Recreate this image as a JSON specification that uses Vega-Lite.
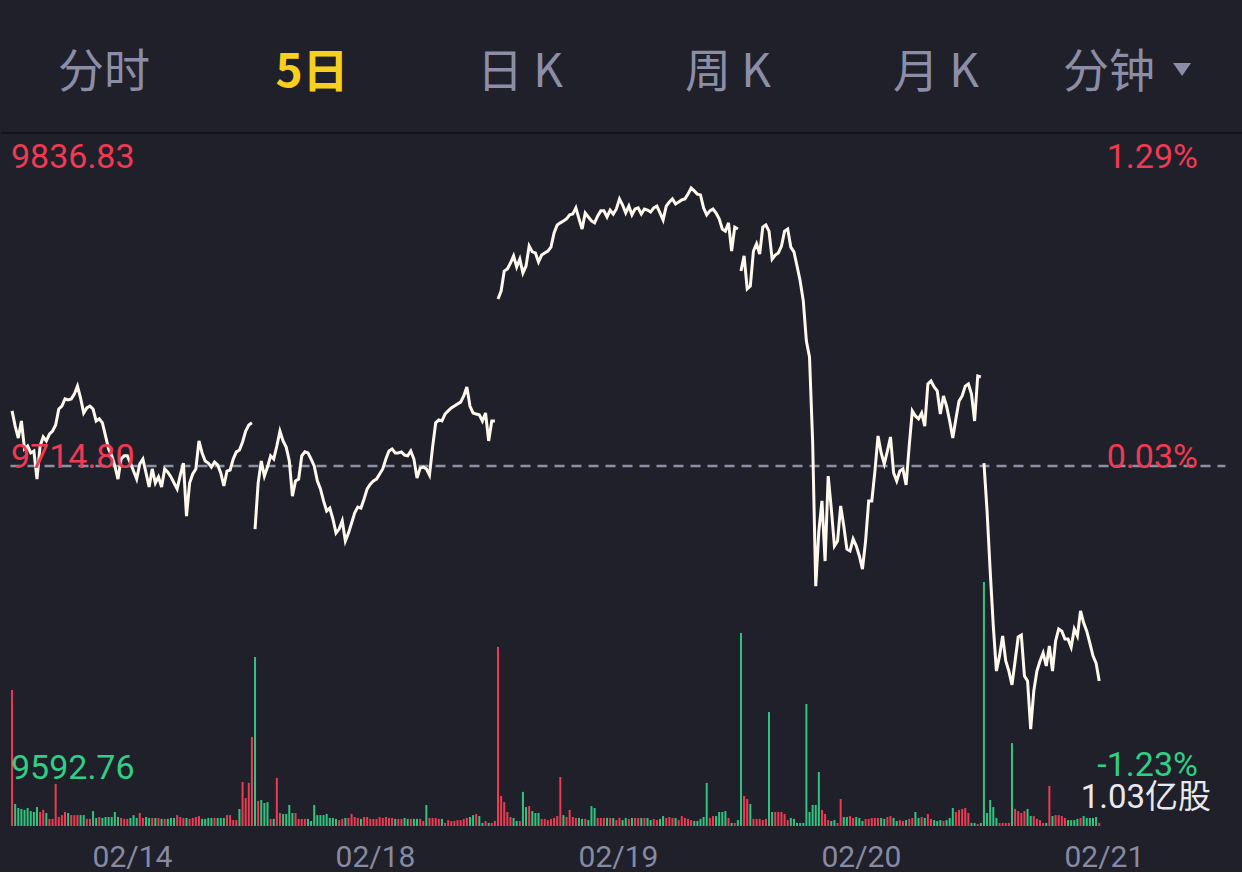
{
"$schema": "https://vega.github.io/schema/vega-lite/v6.json",
"background": "#1f2029",
"padding": 0,
"spacing": 0,
"config": {"view": {"stroke": null}, "font": "Roboto", "scale": {"continuousPadding": 0}},
"vconcat": [
{
"width": 1242, "height": 133,
"data": {"values": [{"n":0,"tab":"分时"},{"n":1,"tab":"5日"},{"n":2,"tab":"日 K"},{"n":3,"tab":"周 K"},{"n":4,"tab":"月 K"},{"n":5,"tab":"分钟"}]},
"layer": [
{"mark": {"type":"rule","color":"#15161c","strokeWidth":1.5}, "encoding": {"y": {"value": "height"}}},
{"transform":[{"filter":"datum.n != 1 && datum.n != 5"}],
 "mark": {"type":"text","font":"Noto Sans CJK SC","fontSize":46,"color":"#8b8ea6","dy":6},
 "encoding": {"x": {"field":"n","type":"quantitative","scale":{"domain":[-0.495,5.476],"nice":false,"zero":false},"axis":null},"text":{"field":"tab"}}},
{"transform":[{"filter":"datum.n == 1"}],
 "mark": {"type":"text","font":"Noto Sans CJK SC","fontSize":46,"fontWeight":"bold","color":"#f7cf1e","dy":6},
 "encoding": {"x": {"field":"n","type":"quantitative","scale":{"domain":[-0.495,5.476],"nice":false,"zero":false},"axis":null},"text":{"field":"tab"}}},
{"transform":[{"filter":"datum.n == 5"}],
 "mark": {"type":"text","font":"Noto Sans CJK SC","fontSize":46,"color":"#8b8ea6","dy":6,"dx":-35},
 "encoding": {"x": {"field":"n","type":"quantitative","scale":{"domain":[-0.495,5.476],"nice":false,"zero":false},"axis":null},"text":{"field":"tab"}}},
{"transform":[{"filter":"datum.n == 5"}],
 "mark": {"type":"point","filled":true,"color":"#8b8ea6","opacity":1,"size":324,"shape":"M-1,-0.39L1,-0.39L0,1.05Z"},
 "encoding": {"x": {"datum":5.183,"type":"quantitative","scale":{"domain":[-0.495,5.476],"nice":false,"zero":false},"axis":null}}}
]
},
{
"width": 1242, "height": 692,
"data": {"values": [
{"k":0,"day":1,"p":9735.5,"v":57.4,"c":"u"},{"k":1,"day":1,"p":9729.8,"v":9.3,"c":"d"},{"k":2,"day":1,"p":9725.3,"v":7.6,"c":"d"},{"k":3,"day":1,"p":9731.7,"v":7.2,"c":"d"},{"k":4,"day":1,"p":9721.2,"v":6.8,"c":"d"},{"k":5,"day":1,"p":9722.3,"v":7.6,"c":"d"},{"k":6,"day":1,"p":9719.7,"v":6.3,"c":"d"},{"k":7,"day":1,"p":9720.4,"v":5.9,"c":"d"},{"k":8,"day":1,"p":9709.9,"v":8.0,"c":"d"},{"k":9,"day":1,"p":9722.3,"v":5.9,"c":"u"},
{"k":10,"day":1,"p":9725.7,"v":6.8,"c":"u"},{"k":11,"day":1,"p":9724.2,"v":5.5,"c":"d"},{"k":12,"day":1,"p":9726.8,"v":3.0,"c":"u"},{"k":13,"day":1,"p":9727.9,"v":3.0,"c":"u"},{"k":14,"day":1,"p":9730.2,"v":17.7,"c":"u"},{"k":15,"day":1,"p":9736.2,"v":3.8,"c":"u"},{"k":16,"day":1,"p":9737.3,"v":4.6,"c":"u"},{"k":17,"day":1,"p":9740.0,"v":5.9,"c":"u"},{"k":18,"day":1,"p":9739.6,"v":5.5,"c":"d"},{"k":19,"day":1,"p":9740.0,"v":4.6,"c":"u"},
{"k":20,"day":1,"p":9741.8,"v":4.6,"c":"u"},{"k":21,"day":1,"p":9744.8,"v":4.6,"c":"u"},{"k":22,"day":1,"p":9740.3,"v":4.6,"c":"d"},{"k":23,"day":1,"p":9734.7,"v":4.6,"c":"d"},{"k":24,"day":1,"p":9736.6,"v":3.0,"c":"u"},{"k":25,"day":1,"p":9737.3,"v":3.0,"c":"u"},{"k":26,"day":1,"p":9736.2,"v":6.3,"c":"d"},{"k":27,"day":1,"p":9731.7,"v":3.4,"c":"d"},{"k":28,"day":1,"p":9732.5,"v":3.8,"c":"u"},{"k":29,"day":1,"p":9731.0,"v":3.4,"c":"d"},
{"k":30,"day":1,"p":9726.1,"v":3.8,"c":"d"},{"k":31,"day":1,"p":9721.2,"v":3.8,"c":"d"},{"k":32,"day":1,"p":9718.6,"v":3.8,"c":"d"},{"k":33,"day":1,"p":9714.8,"v":5.9,"c":"d"},{"k":34,"day":1,"p":9709.9,"v":3.8,"c":"d"},{"k":35,"day":1,"p":9717.4,"v":3.4,"c":"u"},{"k":36,"day":1,"p":9718.6,"v":3.0,"c":"u"},{"k":37,"day":1,"p":9718.6,"v":3.0,"c":"u"},{"k":38,"day":1,"p":9715.9,"v":3.4,"c":"d"},{"k":39,"day":1,"p":9712.9,"v":4.6,"c":"d"},
{"k":40,"day":1,"p":9709.9,"v":3.4,"c":"d"},{"k":41,"day":1,"p":9715.6,"v":5.5,"c":"u"},{"k":42,"day":1,"p":9717.4,"v":3.4,"c":"u"},{"k":43,"day":1,"p":9712.2,"v":3.8,"c":"d"},{"k":44,"day":1,"p":9706.9,"v":3.4,"c":"d"},{"k":45,"day":1,"p":9713.7,"v":3.4,"c":"u"},{"k":46,"day":1,"p":9708.4,"v":3.4,"c":"d"},{"k":47,"day":1,"p":9710.7,"v":3.4,"c":"u"},{"k":48,"day":1,"p":9706.9,"v":3.0,"c":"d"},{"k":49,"day":1,"p":9713.7,"v":3.0,"c":"u"},
{"k":50,"day":1,"p":9712.5,"v":3.0,"c":"d"},{"k":51,"day":1,"p":9710.7,"v":3.4,"c":"d"},{"k":52,"day":1,"p":9708.4,"v":3.4,"c":"d"},{"k":53,"day":1,"p":9706.2,"v":4.6,"c":"u"},{"k":54,"day":1,"p":9711.4,"v":3.8,"c":"u"},{"k":55,"day":1,"p":9715.9,"v":3.4,"c":"u"},{"k":56,"day":1,"p":9696.0,"v":3.4,"c":"d"},{"k":57,"day":1,"p":9708.4,"v":3.0,"c":"u"},{"k":58,"day":1,"p":9711.8,"v":3.4,"c":"u"},{"k":59,"day":1,"p":9713.7,"v":3.8,"c":"u"},
{"k":60,"day":1,"p":9724.2,"v":4.2,"c":"u"},{"k":61,"day":1,"p":9719.7,"v":3.0,"c":"d"},{"k":62,"day":1,"p":9716.7,"v":3.0,"c":"d"},{"k":63,"day":1,"p":9715.9,"v":3.4,"c":"d"},{"k":64,"day":1,"p":9714.4,"v":3.4,"c":"d"},{"k":65,"day":1,"p":9716.3,"v":3.4,"c":"u"},{"k":66,"day":1,"p":9715.2,"v":3.4,"c":"d"},{"k":67,"day":1,"p":9712.2,"v":3.4,"c":"d"},{"k":68,"day":1,"p":9707.3,"v":3.4,"c":"d"},{"k":69,"day":1,"p":9712.9,"v":4.6,"c":"u"},
{"k":70,"day":1,"p":9713.3,"v":4.6,"c":"u"},{"k":71,"day":1,"p":9717.4,"v":2.5,"c":"u"},{"k":72,"day":1,"p":9720.1,"v":2.5,"c":"u"},{"k":73,"day":1,"p":9720.8,"v":7.2,"c":"d"},{"k":74,"day":1,"p":9723.8,"v":18.6,"c":"u"},{"k":75,"day":1,"p":9727.9,"v":11.8,"c":"u"},{"k":76,"day":1,"p":9730.2,"v":18.2,"c":"u"},{"k":77,"day":1,"p":9731.0,"v":37.6,"c":"u"},
{"k":78,"day":2,"p":9691.1,"v":71.3,"c":"d"},{"k":79,"day":2,"p":9708.4,"v":10.6,"c":"u"},{"k":80,"day":2,"p":9716.7,"v":11.0,"c":"d"},{"k":81,"day":2,"p":9711.0,"v":9.7,"c":"d"},{"k":82,"day":2,"p":9714.4,"v":10.1,"c":"d"},{"k":83,"day":2,"p":9718.6,"v":3.0,"c":"u"},{"k":84,"day":2,"p":9717.4,"v":3.0,"c":"d"},{"k":85,"day":2,"p":9722.3,"v":20.3,"c":"u"},{"k":86,"day":2,"p":9727.9,"v":5.5,"c":"u"},{"k":87,"day":2,"p":9724.2,"v":5.1,"c":"d"},
{"k":88,"day":2,"p":9721.9,"v":5.1,"c":"d"},{"k":89,"day":2,"p":9716.7,"v":8.9,"c":"d"},{"k":90,"day":2,"p":9703.5,"v":5.5,"c":"d"},{"k":91,"day":2,"p":9709.2,"v":5.5,"c":"u"},{"k":92,"day":2,"p":9709.9,"v":3.0,"c":"u"},{"k":93,"day":2,"p":9718.6,"v":3.0,"c":"u"},{"k":94,"day":2,"p":9720.1,"v":3.0,"c":"u"},{"k":95,"day":2,"p":9719.7,"v":3.0,"c":"d"},{"k":96,"day":2,"p":9717.4,"v":2.1,"c":"d"},{"k":97,"day":2,"p":9714.8,"v":8.9,"c":"d"},
{"k":98,"day":2,"p":9709.2,"v":4.6,"c":"d"},{"k":99,"day":2,"p":9706.2,"v":4.6,"c":"d"},{"k":100,"day":2,"p":9701.7,"v":4.6,"c":"d"},{"k":101,"day":2,"p":9697.9,"v":5.1,"c":"d"},{"k":102,"day":2,"p":9699.0,"v":3.4,"c":"d"},{"k":103,"day":2,"p":9694.9,"v":3.4,"c":"d"},{"k":104,"day":2,"p":9689.6,"v":3.0,"c":"d"},{"k":105,"day":2,"p":9691.1,"v":2.5,"c":"u"},{"k":106,"day":2,"p":9694.2,"v":3.0,"c":"u"},{"k":107,"day":2,"p":9686.6,"v":3.4,"c":"d"},
{"k":108,"day":2,"p":9689.6,"v":3.4,"c":"u"},{"k":109,"day":2,"p":9693.4,"v":5.1,"c":"u"},{"k":110,"day":2,"p":9697.2,"v":3.8,"c":"u"},{"k":111,"day":2,"p":9699.4,"v":3.4,"c":"u"},{"k":112,"day":2,"p":9699.0,"v":3.0,"c":"d"},{"k":113,"day":2,"p":9702.4,"v":3.8,"c":"u"},{"k":114,"day":2,"p":9706.2,"v":3.8,"c":"u"},{"k":115,"day":2,"p":9708.0,"v":3.0,"c":"u"},{"k":116,"day":2,"p":9709.2,"v":3.0,"c":"u"},{"k":117,"day":2,"p":9709.9,"v":3.0,"c":"u"},
{"k":118,"day":2,"p":9711.8,"v":3.8,"c":"u"},{"k":119,"day":2,"p":9713.7,"v":3.4,"c":"u"},{"k":120,"day":2,"p":9717.4,"v":3.8,"c":"u"},{"k":121,"day":2,"p":9720.4,"v":3.4,"c":"u"},{"k":122,"day":2,"p":9721.2,"v":3.4,"c":"u"},{"k":123,"day":2,"p":9719.7,"v":3.0,"c":"d"},{"k":124,"day":2,"p":9719.7,"v":3.0,"c":"u"},{"k":125,"day":2,"p":9720.1,"v":3.0,"c":"u"},{"k":126,"day":2,"p":9718.9,"v":3.4,"c":"d"},{"k":127,"day":2,"p":9718.6,"v":3.0,"c":"d"},
{"k":128,"day":2,"p":9720.4,"v":3.0,"c":"u"},{"k":129,"day":2,"p":9717.4,"v":3.0,"c":"d"},{"k":130,"day":2,"p":9710.3,"v":3.0,"c":"d"},{"k":131,"day":2,"p":9714.0,"v":3.0,"c":"u"},{"k":132,"day":2,"p":9714.4,"v":2.1,"c":"u"},{"k":133,"day":2,"p":9713.7,"v":8.9,"c":"d"},{"k":134,"day":2,"p":9711.4,"v":3.4,"c":"u"},{"k":135,"day":2,"p":9721.9,"v":3.4,"c":"u"},{"k":136,"day":2,"p":9731.0,"v":3.4,"c":"u"},{"k":137,"day":2,"p":9732.1,"v":3.0,"c":"u"},
{"k":138,"day":2,"p":9731.7,"v":3.0,"c":"d"},{"k":139,"day":2,"p":9734.3,"v":1.3,"c":"u"},{"k":140,"day":2,"p":9735.5,"v":2.5,"c":"u"},{"k":141,"day":2,"p":9736.6,"v":2.1,"c":"u"},{"k":142,"day":2,"p":9737.3,"v":2.1,"c":"u"},{"k":143,"day":2,"p":9738.1,"v":2.5,"c":"u"},{"k":144,"day":2,"p":9738.8,"v":2.5,"c":"u"},{"k":145,"day":2,"p":9741.1,"v":3.0,"c":"u"},{"k":146,"day":2,"p":9744.5,"v":3.4,"c":"u"},{"k":147,"day":2,"p":9737.3,"v":3.8,"c":"d"},
{"k":148,"day":2,"p":9734.7,"v":4.6,"c":"d"},{"k":149,"day":2,"p":9734.3,"v":5.1,"c":"u"},{"k":150,"day":2,"p":9734.0,"v":4.2,"c":"d"},{"k":151,"day":2,"p":9731.7,"v":1.3,"c":"d"},{"k":152,"day":2,"p":9734.7,"v":2.1,"c":"u"},{"k":153,"day":2,"p":9724.2,"v":1.3,"c":"d"},{"k":154,"day":2,"p":9731.7,"v":1.3,"c":"u"},{"k":155,"day":2,"p":9731.7,"v":2.1,"c":"u"},
{"k":156,"day":3,"p":9777.5,"v":75.6,"c":"u"},{"k":157,"day":3,"p":9780.5,"v":12.7,"c":"u"},{"k":158,"day":3,"p":9788.0,"v":10.1,"c":"u"},{"k":159,"day":3,"p":9788.8,"v":5.9,"c":"u"},{"k":160,"day":3,"p":9791.0,"v":3.8,"c":"u"},{"k":161,"day":3,"p":9793.7,"v":3.4,"c":"d"},{"k":162,"day":3,"p":9789.5,"v":2.1,"c":"d"},{"k":163,"day":3,"p":9792.5,"v":2.1,"c":"u"},{"k":164,"day":3,"p":9787.3,"v":14.4,"c":"d"},{"k":165,"day":3,"p":9789.9,"v":8.0,"c":"d"},
{"k":166,"day":3,"p":9797.4,"v":8.4,"c":"u"},{"k":167,"day":3,"p":9795.2,"v":6.3,"c":"d"},{"k":168,"day":3,"p":9794.8,"v":5.5,"c":"d"},{"k":169,"day":3,"p":9791.4,"v":5.5,"c":"d"},{"k":170,"day":3,"p":9794.0,"v":3.0,"c":"u"},{"k":171,"day":3,"p":9794.8,"v":3.0,"c":"u"},{"k":172,"day":3,"p":9795.5,"v":2.5,"c":"u"},{"k":173,"day":3,"p":9797.0,"v":3.0,"c":"u"},{"k":174,"day":3,"p":9802.3,"v":3.4,"c":"u"},{"k":175,"day":3,"p":9805.3,"v":4.2,"c":"u"},
{"k":176,"day":3,"p":9806.1,"v":20.7,"c":"u"},{"k":177,"day":3,"p":9806.8,"v":4.6,"c":"d"},{"k":178,"day":3,"p":9807.6,"v":3.8,"c":"u"},{"k":179,"day":3,"p":9809.1,"v":6.8,"c":"u"},{"k":180,"day":3,"p":9809.4,"v":3.8,"c":"u"},{"k":181,"day":3,"p":9811.7,"v":3.4,"c":"u"},{"k":182,"day":3,"p":9807.6,"v":3.4,"c":"d"},{"k":183,"day":3,"p":9803.8,"v":3.0,"c":"d"},{"k":184,"day":3,"p":9809.8,"v":3.0,"c":"u"},{"k":185,"day":3,"p":9808.3,"v":2.5,"c":"d"},
{"k":186,"day":3,"p":9806.8,"v":8.4,"c":"d"},{"k":187,"day":3,"p":9806.1,"v":7.6,"c":"d"},{"k":188,"day":3,"p":9808.7,"v":3.4,"c":"u"},{"k":189,"day":3,"p":9810.6,"v":3.4,"c":"u"},{"k":190,"day":3,"p":9810.6,"v":3.4,"c":"u"},{"k":191,"day":3,"p":9808.3,"v":3.4,"c":"d"},{"k":192,"day":3,"p":9810.9,"v":3.4,"c":"u"},{"k":193,"day":3,"p":9809.4,"v":3.4,"c":"d"},{"k":194,"day":3,"p":9811.3,"v":2.5,"c":"u"},{"k":195,"day":3,"p":9815.1,"v":3.4,"c":"u"},
{"k":196,"day":3,"p":9812.8,"v":2.5,"c":"d"},{"k":197,"day":3,"p":9809.8,"v":3.4,"c":"d"},{"k":198,"day":3,"p":9812.4,"v":3.0,"c":"u"},{"k":199,"day":3,"p":9809.1,"v":3.4,"c":"d"},{"k":200,"day":3,"p":9811.3,"v":3.4,"c":"u"},{"k":201,"day":3,"p":9811.7,"v":3.4,"c":"u"},{"k":202,"day":3,"p":9809.4,"v":3.4,"c":"d"},{"k":203,"day":3,"p":9811.3,"v":3.4,"c":"u"},{"k":204,"day":3,"p":9810.9,"v":3.4,"c":"d"},{"k":205,"day":3,"p":9810.2,"v":2.5,"c":"d"},
{"k":206,"day":3,"p":9811.7,"v":3.0,"c":"u"},{"k":207,"day":3,"p":9812.4,"v":2.5,"c":"u"},{"k":208,"day":3,"p":9809.8,"v":3.0,"c":"d"},{"k":209,"day":3,"p":9807.2,"v":4.2,"c":"d"},{"k":210,"day":3,"p":9812.4,"v":3.4,"c":"u"},{"k":211,"day":3,"p":9813.9,"v":3.8,"c":"u"},{"k":212,"day":3,"p":9815.1,"v":3.4,"c":"u"},{"k":213,"day":3,"p":9813.2,"v":3.4,"c":"d"},{"k":214,"day":3,"p":9813.9,"v":2.5,"c":"u"},{"k":215,"day":3,"p":9814.7,"v":4.2,"c":"u"},
{"k":216,"day":3,"p":9815.1,"v":3.4,"c":"u"},{"k":217,"day":3,"p":9816.9,"v":3.0,"c":"u"},{"k":218,"day":3,"p":9819.2,"v":2.5,"c":"u"},{"k":219,"day":3,"p":9818.1,"v":2.1,"c":"d"},{"k":220,"day":3,"p":9816.9,"v":2.1,"c":"d"},{"k":221,"day":3,"p":9816.6,"v":3.0,"c":"d"},{"k":222,"day":3,"p":9811.7,"v":3.8,"c":"d"},{"k":223,"day":3,"p":9809.1,"v":18.2,"c":"d"},{"k":224,"day":3,"p":9810.6,"v":3.4,"c":"u"},{"k":225,"day":3,"p":9811.3,"v":4.2,"c":"u"},
{"k":226,"day":3,"p":9809.8,"v":4.2,"c":"d"},{"k":227,"day":3,"p":9807.6,"v":5.9,"c":"d"},{"k":228,"day":3,"p":9803.8,"v":5.9,"c":"d"},{"k":229,"day":3,"p":9803.0,"v":6.3,"c":"d"},{"k":230,"day":3,"p":9806.1,"v":3.4,"c":"u"},{"k":231,"day":3,"p":9795.5,"v":1.3,"c":"d"},{"k":232,"day":3,"p":9804.5,"v":1.3,"c":"u"},{"k":233,"day":3,"p":9803.8,"v":2.5,"c":"d"},
{"k":234,"day":4,"p":9788.0,"v":81.5,"c":"d"},{"k":235,"day":4,"p":9793.7,"v":12.7,"c":"u"},{"k":236,"day":4,"p":9781.3,"v":11.4,"c":"u"},{"k":237,"day":4,"p":9782.4,"v":9.3,"c":"d"},{"k":238,"day":4,"p":9795.5,"v":3.0,"c":"u"},{"k":239,"day":4,"p":9798.2,"v":3.0,"c":"u"},{"k":240,"day":4,"p":9794.4,"v":3.0,"c":"u"},{"k":241,"day":4,"p":9804.5,"v":2.5,"c":"u"},{"k":242,"day":4,"p":9805.3,"v":3.0,"c":"u"},{"k":243,"day":4,"p":9803.0,"v":48.1,"c":"d"},
{"k":244,"day":4,"p":9792.5,"v":5.9,"c":"d"},{"k":245,"day":4,"p":9794.0,"v":5.9,"c":"u"},{"k":246,"day":4,"p":9794.8,"v":5.9,"c":"u"},{"k":247,"day":4,"p":9797.4,"v":5.9,"c":"u"},{"k":248,"day":4,"p":9803.0,"v":5.1,"c":"u"},{"k":249,"day":4,"p":9803.8,"v":2.5,"c":"u"},{"k":250,"day":4,"p":9797.0,"v":3.4,"c":"d"},{"k":251,"day":4,"p":9795.2,"v":3.0,"c":"d"},{"k":252,"day":4,"p":9789.9,"v":1.3,"c":"d"},{"k":253,"day":4,"p":9784.3,"v":1.3,"c":"d"},
{"k":254,"day":4,"p":9776.8,"v":1.3,"c":"d"},{"k":255,"day":4,"p":9761.7,"v":51.5,"c":"d"},{"k":256,"day":4,"p":9755.7,"v":5.9,"c":"d"},{"k":257,"day":4,"p":9724.2,"v":8.9,"c":"d"},{"k":258,"day":4,"p":9669.7,"v":8.9,"c":"d"},{"k":259,"day":4,"p":9690.4,"v":22.8,"c":"d"},{"k":260,"day":4,"p":9701.7,"v":6.8,"c":"u"},{"k":261,"day":4,"p":9679.1,"v":5.1,"c":"u"},{"k":262,"day":4,"p":9711.0,"v":2.5,"c":"u"},{"k":263,"day":4,"p":9698.7,"v":2.1,"c":"d"},
{"k":264,"day":4,"p":9684.8,"v":2.5,"c":"d"},{"k":265,"day":4,"p":9686.6,"v":1.3,"c":"u"},{"k":266,"day":4,"p":9699.8,"v":11.4,"c":"u"},{"k":267,"day":4,"p":9692.3,"v":3.8,"c":"d"},{"k":268,"day":4,"p":9683.6,"v":3.8,"c":"d"},{"k":269,"day":4,"p":9682.9,"v":4.2,"c":"u"},{"k":270,"day":4,"p":9687.4,"v":3.4,"c":"u"},{"k":271,"day":4,"p":9684.8,"v":3.8,"c":"d"},{"k":272,"day":4,"p":9681.0,"v":3.4,"c":"d"},{"k":273,"day":4,"p":9676.1,"v":2.1,"c":"d"},
{"k":274,"day":4,"p":9686.6,"v":3.0,"c":"u"},{"k":275,"day":4,"p":9701.7,"v":3.0,"c":"u"},{"k":276,"day":4,"p":9701.7,"v":3.4,"c":"u"},{"k":277,"day":4,"p":9712.9,"v":3.4,"c":"u"},{"k":278,"day":4,"p":9726.1,"v":3.4,"c":"u"},{"k":279,"day":4,"p":9719.7,"v":3.4,"c":"d"},{"k":280,"day":4,"p":9715.6,"v":3.0,"c":"d"},{"k":281,"day":4,"p":9720.4,"v":3.8,"c":"u"},{"k":282,"day":4,"p":9725.7,"v":4.2,"c":"u"},{"k":283,"day":4,"p":9712.2,"v":3.4,"c":"d"},
{"k":284,"day":4,"p":9709.2,"v":2.1,"c":"d"},{"k":285,"day":4,"p":9712.9,"v":2.5,"c":"u"},{"k":286,"day":4,"p":9713.7,"v":2.1,"c":"u"},{"k":287,"day":4,"p":9707.7,"v":2.5,"c":"d"},{"k":288,"day":4,"p":9722.3,"v":3.0,"c":"u"},{"k":289,"day":4,"p":9735.5,"v":3.4,"c":"u"},{"k":290,"day":4,"p":9733.6,"v":5.9,"c":"d"},{"k":291,"day":4,"p":9732.5,"v":3.4,"c":"d"},{"k":292,"day":4,"p":9734.7,"v":3.8,"c":"u"},{"k":293,"day":4,"p":9729.8,"v":3.4,"c":"d"},
{"k":294,"day":4,"p":9745.6,"v":5.1,"c":"u"},{"k":295,"day":4,"p":9746.7,"v":3.0,"c":"u"},{"k":296,"day":4,"p":9744.5,"v":2.5,"c":"d"},{"k":297,"day":4,"p":9743.0,"v":2.1,"c":"d"},{"k":298,"day":4,"p":9734.3,"v":2.5,"c":"d"},{"k":299,"day":4,"p":9741.1,"v":2.1,"c":"u"},{"k":300,"day":4,"p":9737.3,"v":2.5,"c":"d"},{"k":301,"day":4,"p":9731.7,"v":3.4,"c":"d"},{"k":302,"day":4,"p":9725.3,"v":7.6,"c":"d"},{"k":303,"day":4,"p":9732.5,"v":5.9,"c":"u"},
{"k":304,"day":4,"p":9739.2,"v":6.8,"c":"u"},{"k":305,"day":4,"p":9741.1,"v":7.2,"c":"u"},{"k":306,"day":4,"p":9744.8,"v":7.6,"c":"u"},{"k":307,"day":4,"p":9745.6,"v":5.5,"c":"u"},{"k":308,"day":4,"p":9741.8,"v":1.3,"c":"d"},{"k":309,"day":4,"p":9731.7,"v":1.3,"c":"d"},{"k":310,"day":4,"p":9748.6,"v":0.8,"c":"u"},{"k":311,"day":4,"p":9748.2,"v":1.3,"c":"d"},
{"k":312,"day":5,"p":9715.9,"v":103.0,"c":"d"},{"k":313,"day":5,"p":9697.9,"v":5.5,"c":"d"},{"k":314,"day":5,"p":9675.4,"v":11.0,"c":"d"},{"k":315,"day":5,"p":9654.7,"v":8.0,"c":"d"},{"k":316,"day":5,"p":9637.8,"v":3.4,"c":"d"},{"k":317,"day":5,"p":9643.5,"v":1.3,"c":"u"},{"k":318,"day":5,"p":9651.0,"v":1.3,"c":"u"},{"k":319,"day":5,"p":9641.6,"v":1.3,"c":"u"},{"k":320,"day":5,"p":9637.8,"v":1.3,"c":"u"},{"k":321,"day":5,"p":9632.6,"v":35.0,"c":"d"},
{"k":322,"day":5,"p":9641.6,"v":7.2,"c":"u"},{"k":323,"day":5,"p":9650.6,"v":6.3,"c":"u"},{"k":324,"day":5,"p":9651.3,"v":5.5,"c":"u"},{"k":325,"day":5,"p":9635.9,"v":6.3,"c":"u"},{"k":326,"day":5,"p":9634.1,"v":7.2,"c":"d"},{"k":327,"day":5,"p":9616.0,"v":4.2,"c":"d"},{"k":328,"day":5,"p":9630.3,"v":4.2,"c":"u"},{"k":329,"day":5,"p":9637.8,"v":3.0,"c":"u"},{"k":330,"day":5,"p":9641.6,"v":2.5,"c":"u"},{"k":331,"day":5,"p":9644.6,"v":1.3,"c":"u"},
{"k":332,"day":5,"p":9639.7,"v":1.3,"c":"d"},{"k":333,"day":5,"p":9647.2,"v":16.9,"c":"u"},{"k":334,"day":5,"p":9637.8,"v":4.2,"c":"d"},{"k":335,"day":5,"p":9649.1,"v":4.6,"c":"u"},{"k":336,"day":5,"p":9653.6,"v":4.6,"c":"u"},{"k":337,"day":5,"p":9652.8,"v":4.2,"c":"u"},{"k":338,"day":5,"p":9649.8,"v":3.4,"c":"u"},{"k":339,"day":5,"p":9649.8,"v":2.5,"c":"d"},{"k":340,"day":5,"p":9646.8,"v":2.5,"c":"d"},{"k":341,"day":5,"p":9653.6,"v":2.5,"c":"d"},
{"k":342,"day":5,"p":9651.0,"v":3.0,"c":"d"},{"k":343,"day":5,"p":9660.4,"v":3.4,"c":"u"},{"k":344,"day":5,"p":9655.9,"v":4.2,"c":"d"},{"k":345,"day":5,"p":9652.8,"v":3.4,"c":"d"},{"k":346,"day":5,"p":9648.3,"v":3.4,"c":"d"},{"k":347,"day":5,"p":9643.5,"v":3.4,"c":"d"},{"k":348,"day":5,"p":9640.8,"v":3.8,"c":"d"},{"k":349,"day":5,"p":9634.1,"v":1.3,"c":"u"}
]},
"layer": [
{
 "mark": {"type":"bar","orient":"vertical","width":2},
 "encoding": {
  "x": {"field":"k","type":"quantitative","scale":{"domain":[-3.55,395.16],"nice":false,"zero":false,"padding":0},
        "axis":{"values":[38.5,116.5,194.5,272.5,350.5],"labelExpr":"['02/14','02/18','02/19','02/20','02/21'][round((datum.value-38.5)/78)]","domain":false,"ticks":false,"grid":false,"title":null,"labelColor":"#868aa2","labelFontSize":30,"labelFont":"Roboto","labelPadding":16,"labelFlush":false,"labelOverlap":false}},
  "y": {"field":"v","type":"quantitative","scale":{"domain":[0,292.1],"nice":false,"padding":0},"axis":null},
  "color": {"field":"c","type":"nominal","scale":{"domain":["u","d"],"range":["#ee3a52","#2fc57f"]},"legend":null}
 }
},
{
 "layer": [
  {"data": {"values": [{"p": 9714.8}]},
   "mark": {"type":"rule","color":"#8c8fa7","strokeWidth":2.5,"strokeDash":[10,7]},
   "encoding": {
    "x": {"datum":-0.5,"type":"quantitative","scale":{"domain":[-3.55,395.16],"nice":false,"zero":false,"padding":0},
        "axis":{"values":[38.5,116.5,194.5,272.5,350.5],"labelExpr":"['02/14','02/18','02/19','02/20','02/21'][round((datum.value-38.5)/78)]","domain":false,"ticks":false,"grid":false,"title":null,"labelColor":"#868aa2","labelFontSize":30,"labelFont":"Roboto","labelPadding":16,"labelFlush":false,"labelOverlap":false}},
    "x2": {"datum":389.5},
    "y": {"field":"p","type":"quantitative","scale":{"domain":[9579.62,9839.46],"nice":false,"zero":false,"padding":0},"axis":null}
   }},
  {"mark": {"type":"line","color":"#fff8ec","strokeWidth":3},
   "encoding": {
    "x": {"field":"k","type":"quantitative","scale":{"domain":[-3.55,395.16],"nice":false,"zero":false,"padding":0},
        "axis":{"values":[38.5,116.5,194.5,272.5,350.5],"labelExpr":"['02/14','02/18','02/19','02/20','02/21'][round((datum.value-38.5)/78)]","domain":false,"ticks":false,"grid":false,"title":null,"labelColor":"#868aa2","labelFontSize":30,"labelFont":"Roboto","labelPadding":16,"labelFlush":false,"labelOverlap":false}},
    "y": {"field":"p","type":"quantitative","scale":{"domain":[9579.62,9839.46],"nice":false,"zero":false,"padding":0},"axis":null},
    "detail": {"field":"day","type":"nominal"}
   }},
  {"data": {"values": [{"p":9836.83,"l":"9836.83","r":"1.29%","pos":"top"},{"p":9714.80,"l":"9714.80","r":"0.03%","pos":"mid"},{"p":9592.76,"l":"9592.76","r":"-1.23%","pos":"bot"}]},
   "mark": {"type":"text","align":"left","baseline":"alphabetic","fontSize":34,"font":"Roboto","dy":{"expr":"datum.pos === 'top' ? 27 : datum.pos === 'mid' ? 2 : -12"}},
   "encoding": {
    "x": {"datum":-0.35,"type":"quantitative","scale":{"domain":[-3.55,395.16],"nice":false,"zero":false,"padding":0},
        "axis":{"values":[38.5,116.5,194.5,272.5,350.5],"labelExpr":"['02/14','02/18','02/19','02/20','02/21'][round((datum.value-38.5)/78)]","domain":false,"ticks":false,"grid":false,"title":null,"labelColor":"#868aa2","labelFontSize":30,"labelFont":"Roboto","labelPadding":16,"labelFlush":false,"labelOverlap":false}},
    "y": {"field":"p","type":"quantitative","scale":{"domain":[9579.62,9839.46],"nice":false,"zero":false,"padding":0},"axis":null},
    "text": {"field":"l"},
    "color": {"condition":{"test":"datum.pos === 'bot'","value":"#2fcf86"},"value":"#f03a53"}
   }},
  {"data": {"values": [{"p":9836.83,"l":"9836.83","r":"1.29%","pos":"top"},{"p":9714.80,"l":"9714.80","r":"0.03%","pos":"mid"},{"p":9592.76,"l":"9592.76","r":"-1.23%","pos":"bot"}]},
   "mark": {"type":"text","align":"right","baseline":"alphabetic","fontSize":34,"font":"Roboto","dy":{"expr":"datum.pos === 'top' ? 27 : datum.pos === 'mid' ? 2 : -15"}},
   "encoding": {
    "x": {"datum":380.7,"type":"quantitative","scale":{"domain":[-3.55,395.16],"nice":false,"zero":false,"padding":0},
        "axis":{"values":[38.5,116.5,194.5,272.5,350.5],"labelExpr":"['02/14','02/18','02/19','02/20','02/21'][round((datum.value-38.5)/78)]","domain":false,"ticks":false,"grid":false,"title":null,"labelColor":"#868aa2","labelFontSize":30,"labelFont":"Roboto","labelPadding":16,"labelFlush":false,"labelOverlap":false}},
    "y": {"field":"p","type":"quantitative","scale":{"domain":[9579.62,9839.46],"nice":false,"zero":false,"padding":0},"axis":null},
    "text": {"field":"r"},
    "color": {"condition":{"test":"datum.pos === 'bot'","value":"#2fcf86"},"value":"#f03a53"}
   }},
  {"data": {"values": [{"p":9592.76,"t":"1.03亿股"}]},
   "mark": {"type":"text","align":"right","baseline":"middle","fontSize":33,"font":"Roboto, Noto Sans CJK SC","color":"#e8e8ee","dy":7},
   "encoding": {
    "x": {"datum":384.9,"type":"quantitative","scale":{"domain":[-3.55,395.16],"nice":false,"zero":false,"padding":0},
        "axis":{"values":[38.5,116.5,194.5,272.5,350.5],"labelExpr":"['02/14','02/18','02/19','02/20','02/21'][round((datum.value-38.5)/78)]","domain":false,"ticks":false,"grid":false,"title":null,"labelColor":"#868aa2","labelFontSize":30,"labelFont":"Roboto","labelPadding":16,"labelFlush":false,"labelOverlap":false}},
    "y": {"field":"p","type":"quantitative","scale":{"domain":[9579.62,9839.46],"nice":false,"zero":false,"padding":0},"axis":null},
    "text": {"field":"t"}
   }}
 ]
}
],
"resolve": {"scale": {"y": "independent"}}
}
]
}
